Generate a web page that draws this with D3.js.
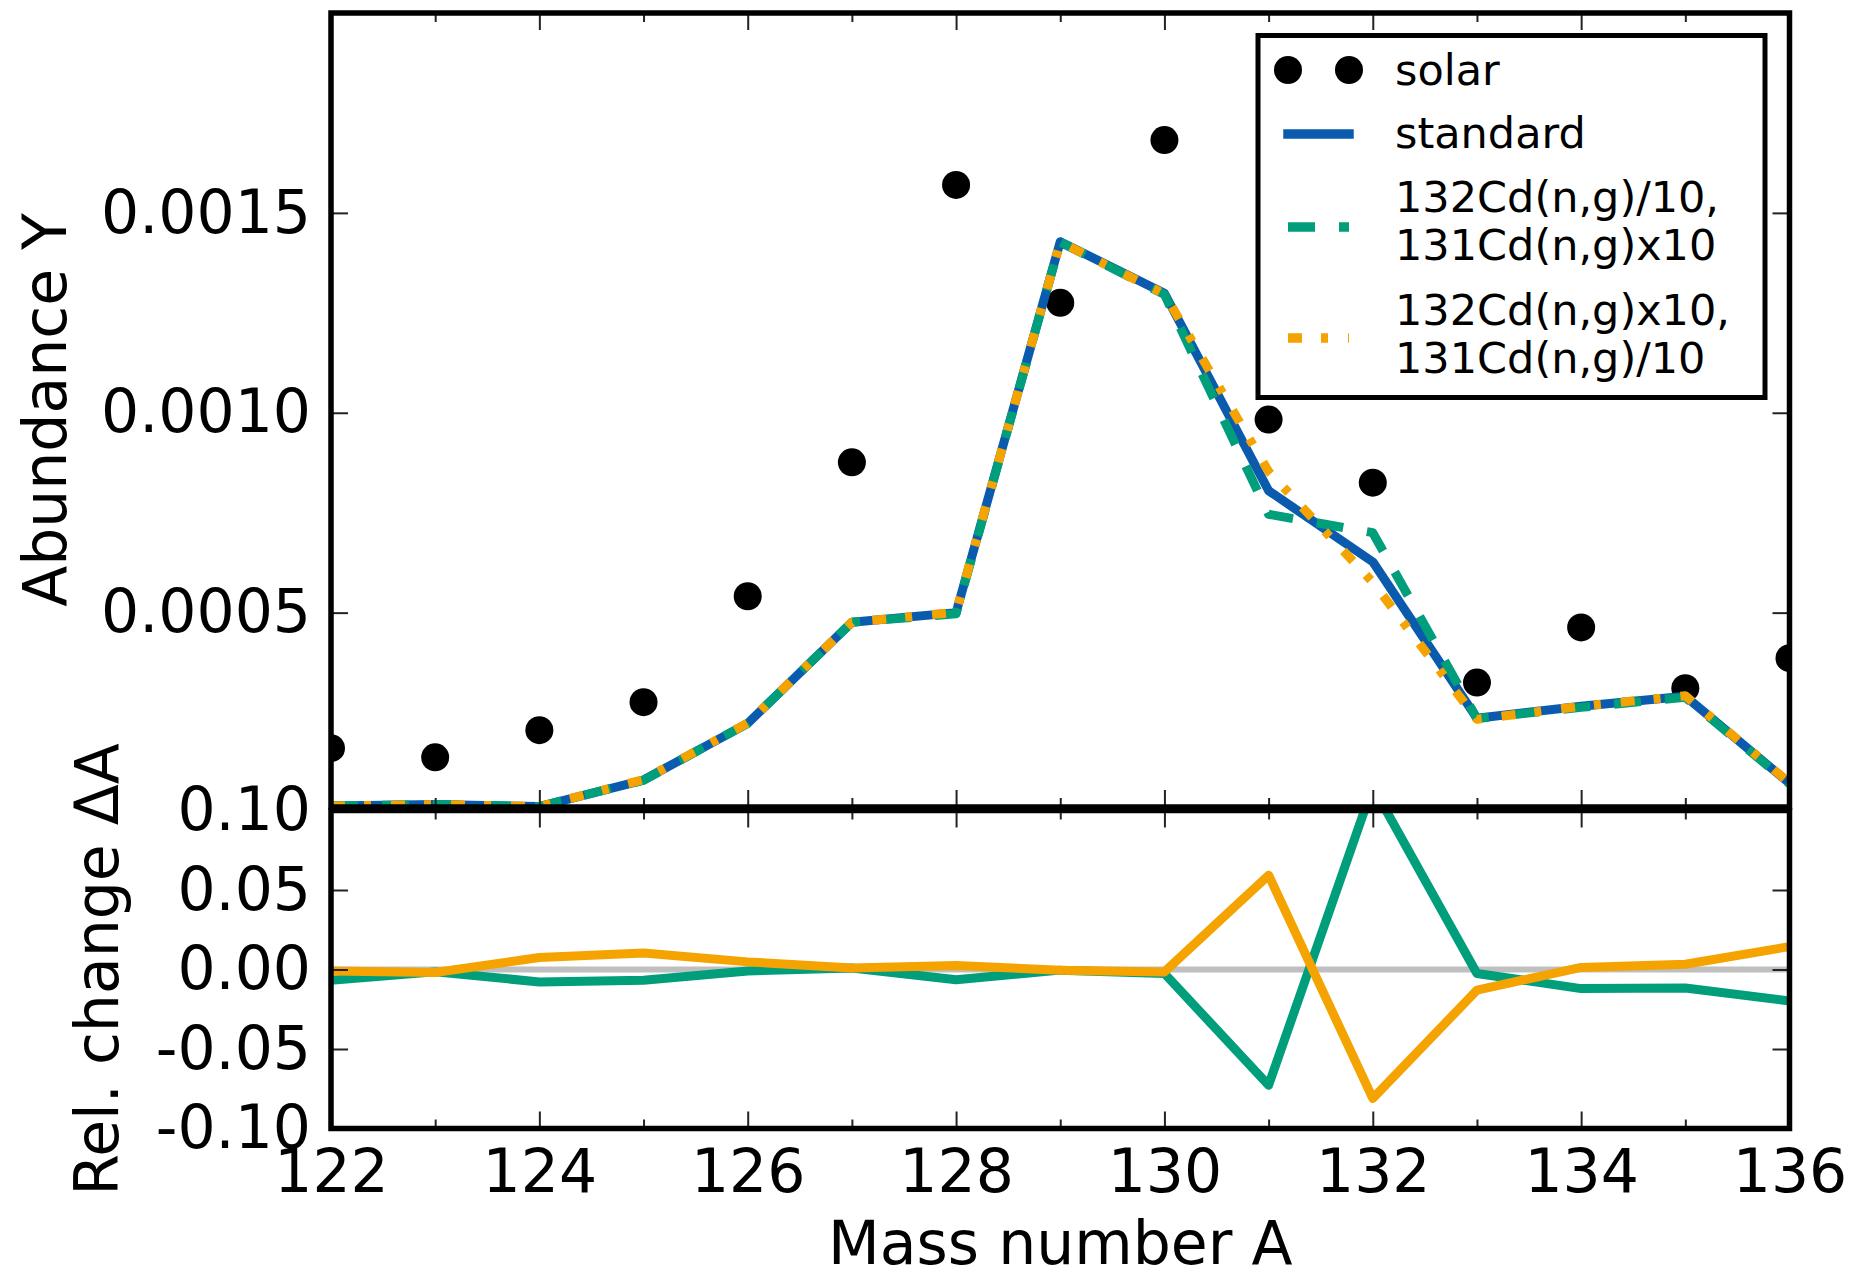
<!DOCTYPE html>
<html>
<head>
<meta charset="utf-8">
<script src="https://cdn.jsdelivr.net/npm/d3@7"></script>
<style>
  html, body { margin: 0; padding: 0; background: #fff; }
  svg { display: block; font-family: "DejaVu Sans", sans-serif; }
</style>
</head>
<body>
<div id="chart"></div>
<script>
// mass numbers on the x axis
const massNumbers = [122, 123, 124, 125, 126, 127, 128, 129, 130, 131, 132, 133, 134, 135, 136];

// upper panel: abundances Y
const solar      = [0.000161, 0.000138, 0.000206, 0.000276, 0.000541, 0.000876, 0.00157, 0.001275, 0.001682, 0.000983, 0.000825, 0.000325, 0.000463, 0.000311, 0.000386];
const standard   = [0.000016, 0.00002, 0.000015, 0.0000813, 0.000223, 0.000476, 0.0005, 0.001428, 0.001299, 0.000805, 0.000627, 0.000236, 0.000266, 0.000291, 0.000073];
const cd132div10 = [0.000016, 0.00002, 0.000015, 0.0000808, 0.000223, 0.000476, 0.000497, 0.001427, 0.001296, 0.000746, 0.0007, 0.000235, 0.000263, 0.000288, 0.0000716];
const cd132x10   = [0.000016, 0.00002, 0.000015, 0.0000821, 0.000224, 0.000476, 0.000501, 0.001427, 0.001297, 0.000853, 0.000576, 0.000233, 0.000266, 0.000292, 0.0000741];

// lower panel: relative change
const relDiv10 = [-0.0067, -0.0015, -0.0078, -0.0067, -0.0009, 0.001, -0.0064, -0.0004, -0.0025, -0.0728, 0.115, -0.0025, -0.012, -0.0116, -0.0198];
const relX10   = [-0.0009, -0.0019, 0.0075, 0.0104, 0.0048, 0.001, 0.0025, -0.0004, -0.0015, 0.0593, -0.0811, -0.013, 0.0013, 0.0033, 0.0144];

// ticks
const xTicksMajor = [122, 124, 126, 128, 130, 132, 134, 136];
const xTicksMinor = [123, 125, 127, 129, 131, 133, 135];
const yTicksTop = [0.0005, 0.0010, 0.0015];
const yTicksBottom = [-0.10, -0.05, 0.00, 0.05, 0.10];

// legend
const legendLabels = [["solar"], ["standard"], ["132Cd(n,g)/10,", "131Cd(n,g)x10"], ["132Cd(n,g)x10,", "131Cd(n,g)/10"]];

const BLUE = "#0a5bae", GREEN = "#009e7a", ORANGE = "#f4a300";
const FONT = 60;

const svg = d3.select("#chart").append("svg")
  .attr("width", 1855)
  .attr("height", 1277);

// scales
const x = d3.scaleLinear().domain([122, 136]).range([331, 1789.5]);
const yTop = d3.scaleLinear().domain([0.0000138, 0.002]).range([807, 13]);
const yBot = d3.scaleLinear().domain([-0.10, 0.10]).range([1128.5, 810.5]);

// clip paths
const defs = svg.append("defs");
defs.append("clipPath").attr("id", "clipTop").append("rect")
  .attr("x", x(122)).attr("y", yTop(0.002))
  .attr("width", x(136) - x(122)).attr("height", yTop(0.0000138) - yTop(0.002));
defs.append("clipPath").attr("id", "clipBot").append("rect")
  .attr("x", x(122)).attr("y", yBot(0.10))
  .attr("width", x(136) - x(122)).attr("height", yBot(-0.10) - yBot(0.10));

// ---- upper panel ----
const gTop = svg.append("g").attr("clip-path", "url(#clipTop)");

gTop.selectAll("circle.solar")
  .data(massNumbers.map((a, i) => ({ a, v: solar[i] })))
  .enter().append("circle")
    .attr("class", "solar")
    .attr("cx", d => x(d.a))
    .attr("cy", d => yTop(d.v))
    .attr("r", 14)
    .attr("fill", "#000");

const lineTop = d3.line().x(d => x(d.a)).y(d => yTop(d.v));
const topSeries = [
  { vals: standard, color: BLUE, dash: null },
  { vals: cd132div10, color: GREEN, dash: "27,24" },
  { vals: cd132x10, color: ORANGE, dash: "14,19,7,20" }
];
topSeries.forEach(s => {
  gTop.append("path")
    .datum(massNumbers.map((a, i) => ({ a, v: s.vals[i] })))
    .attr("d", lineTop)
    .attr("fill", "none")
    .attr("stroke", s.color)
    .attr("stroke-width", 9)
    .attr("stroke-linejoin", "round")
    .attr("stroke-linecap", s.dash ? "butt" : "square")
    .attr("stroke-dasharray", s.dash);
});

// ---- lower panel ----
const gBot = svg.append("g").attr("clip-path", "url(#clipBot)");

gBot.append("line")
  .attr("x1", x(122)).attr("x2", x(136))
  .attr("y1", yBot(0)).attr("y2", yBot(0))
  .attr("stroke", "#bfbfbf")
  .attr("stroke-width", 6);

const lineBot = d3.line().x(d => x(d.a)).y(d => yBot(d.v));
[{ vals: relDiv10, color: GREEN }, { vals: relX10, color: ORANGE }].forEach(s => {
  gBot.append("path")
    .datum(massNumbers.map((a, i) => ({ a, v: s.vals[i] })))
    .attr("d", lineBot)
    .attr("fill", "none")
    .attr("stroke", s.color)
    .attr("stroke-width", 9)
    .attr("stroke-linejoin", "round");
});

// ---- axes (ticks point inward) ----
function styleAxis(g) {
  g.attr("font-family", "DejaVu Sans, sans-serif").attr("font-size", FONT);
  g.select(".domain").remove();
  g.selectAll(".tick line").attr("stroke", "#222").attr("stroke-width", 2);
  g.selectAll(".tick text").attr("fill", "#000");
}

function xTicks(yPos, axisFn, withLabels) {
  svg.append("g").attr("transform", `translate(0,${yPos})`)
    .call(axisFn(x).tickValues(xTicksMajor).tickSize(-17).tickPadding(21)
      .tickFormat(withLabels ? d3.format("d") : ""))
    .call(styleAxis);
  svg.append("g").attr("transform", `translate(0,${yPos})`)
    .call(axisFn(x).tickValues(xTicksMinor).tickSize(-9).tickFormat(""))
    .call(styleAxis);
}

// upper panel x ticks
xTicks(yTop(0.002), d3.axisTop, false);
xTicks(yTop(0.0000138), d3.axisBottom, false);
// lower panel x ticks
xTicks(yBot(0.10), d3.axisTop, false);
xTicks(yBot(-0.10), d3.axisBottom, true);

// y axes
svg.append("g").attr("transform", `translate(${x(122)},0)`)
  .call(d3.axisLeft(yTop).tickValues(yTicksTop).tickSize(-17).tickPadding(20)
    .tickFormat(d => d.toFixed(4)))
  .call(styleAxis);
svg.append("g").attr("transform", `translate(${x(136)},0)`)
  .call(d3.axisRight(yTop).tickValues(yTicksTop).tickSize(-17).tickFormat(""))
  .call(styleAxis);
svg.append("g").attr("transform", `translate(${x(122)},0)`)
  .call(d3.axisLeft(yBot).tickValues(yTicksBottom).tickSize(-17).tickPadding(20)
    .tickFormat(d => d.toFixed(2)))
  .call(styleAxis);
svg.append("g").attr("transform", `translate(${x(136)},0)`)
  .call(d3.axisRight(yBot).tickValues(yTicksBottom).tickSize(-17).tickFormat(""))
  .call(styleAxis);

// spines
svg.append("rect")
  .attr("x", x(122)).attr("y", yTop(0.002))
  .attr("width", x(136) - x(122)).attr("height", yTop(0.0000138) - yTop(0.002))
  .attr("fill", "none").attr("stroke", "#000").attr("stroke-width", 5.5);
svg.append("rect")
  .attr("x", x(122)).attr("y", yBot(0.10))
  .attr("width", x(136) - x(122)).attr("height", yBot(-0.10) - yBot(0.10))
  .attr("fill", "none").attr("stroke", "#000").attr("stroke-width", 5.5);

// axis labels
svg.append("text")
  .attr("transform", `translate(66,${(yTop(0.002) + yTop(0.0000138)) / 2}) rotate(-90)`)
  .attr("text-anchor", "middle")
  .style("font-size", FONT + "px")
  .text("Abundance Y");
svg.append("text")
  .attr("transform", `translate(118,${(yBot(0.10) + yBot(-0.10)) / 2}) rotate(-90)`)
  .attr("text-anchor", "middle")
  .style("font-size", FONT + "px")
  .text("Rel. change ΔA");
svg.append("text")
  .attr("x", (x(122) + x(136)) / 2)
  .attr("y", 1264)
  .attr("text-anchor", "middle")
  .style("font-size", FONT + "px")
  .text("Mass number A");

// ---- legend ----
const leg = svg.append("g");
leg.append("rect")
  .attr("x", 1258).attr("y", 35.5)
  .attr("width", 507).attr("height", 362)
  .attr("fill", "#fff").attr("stroke", "#000").attr("stroke-width", 5);

const hx0 = 1288, hx1 = 1349, tx = 1395;
// solar markers
[hx0, hx1].forEach(cx => leg.append("circle").attr("cx", cx).attr("cy", 70).attr("r", 14).attr("fill", "#000"));
const handles = [
  { y: 134, color: BLUE, dash: null },
  { y: 227, color: GREEN, dash: "27,24" },
  { y: 338, color: ORANGE, dash: "14,19,7,20" }
];
handles.forEach(h => {
  leg.append("line")
    .attr("x1", hx0).attr("x2", hx1).attr("y1", h.y).attr("y2", h.y)
    .attr("stroke", h.color).attr("stroke-width", 9.5)
    .attr("stroke-linecap", h.dash ? "butt" : "square")
    .attr("stroke-dasharray", h.dash);
});
const baselines = [[85], [148], [212, 260], [325, 373]];
legendLabels.forEach((lines, i) => {
  lines.forEach((t, j) => {
    leg.append("text")
      .attr("x", tx).attr("y", baselines[i][j])
      .style("font-size", "43px")
      .text(t);
  });
});
</script>
</body>
</html>
